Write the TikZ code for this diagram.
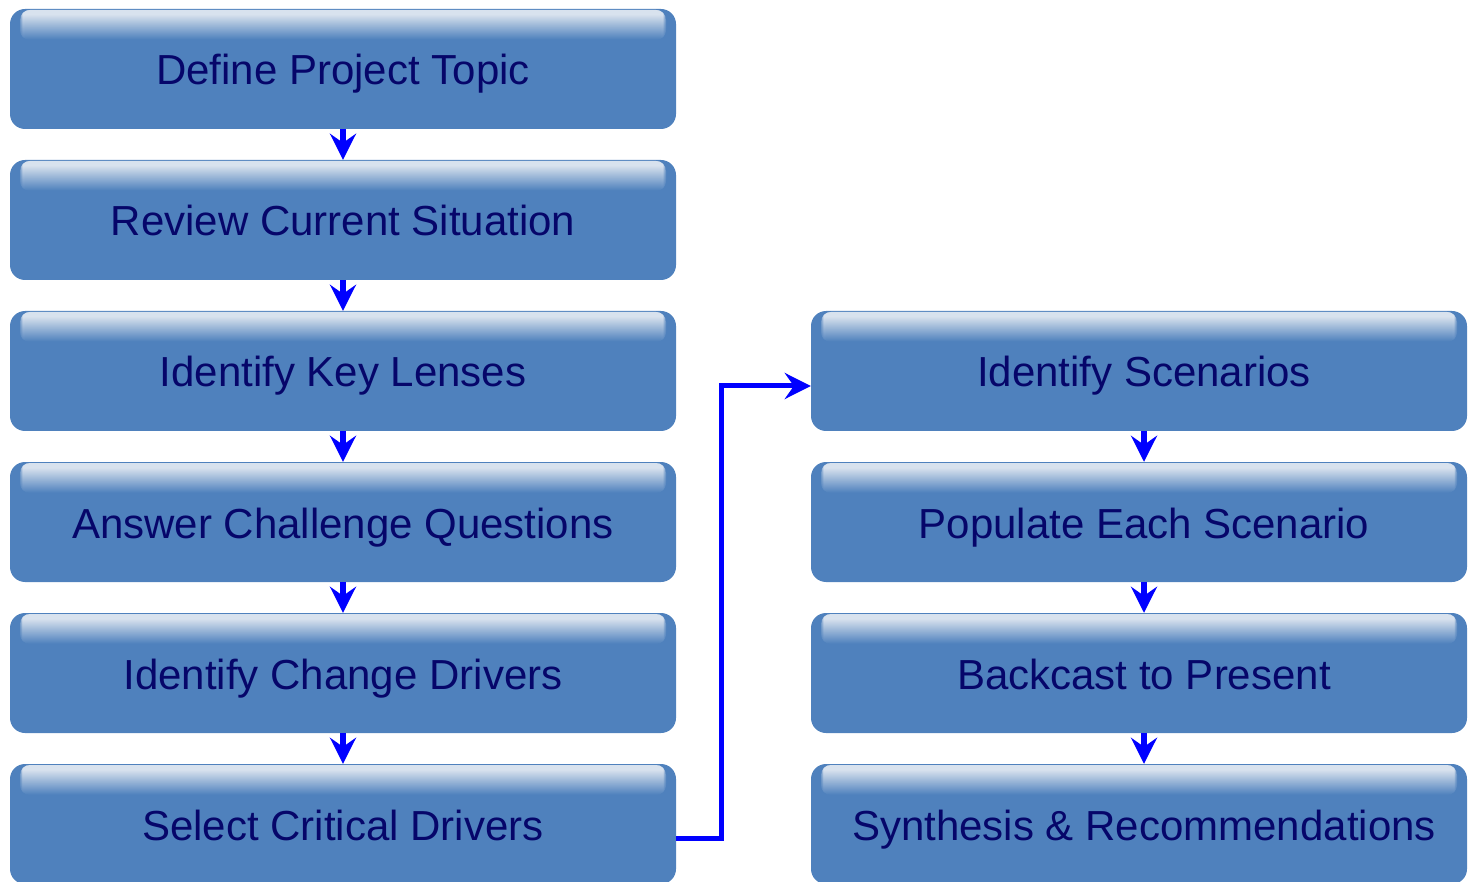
\documentclass[tikz,border=0pt]{standalone}
\usepackage{fontspec}
\setmainfont{Liberation Sans}
\usetikzlibrary{arrows.meta,calc}
\definecolor{boxblue}{HTML}{4F81BD}
\definecolor{glossblue}{HTML}{D8E2EE}
\definecolor{textnavy}{HTML}{06066A}
\definecolor{flowblue}{HTML}{0000FF}
\tikzset{
  stepbox/.style={
    fill=boxblue, rounded corners=15pt, inner sep=0pt,
    minimum height=120pt, text=textnavy,
    text height=36pt, text depth=4pt,
    font=\fontsize{42}{50}\selectfont,
    % highlight band along the top: pale at the top, fading into the fill,
    % built from thin strips inside a rounded clip
    path picture={
      \begin{scope}
        \clip[rounded corners=10pt]
          ([xshift=10pt,yshift=-1pt]path picture bounding box.north west)
          rectangle ([xshift=-10pt,yshift=-31pt]path picture bounding box.north east);
        \foreach \i in {0,...,30}{
          \pgfmathtruncatemacro\p{min(100,max(0,100*(30-\i)/25))}
          \fill[glossblue!\p!boxblue]
            ([yshift={-(\i+0.5)*1pt}]path picture bounding box.north west)
            rectangle ([yshift={-(\i+2)*1pt}]path picture bounding box.north east);
        }
      \end{scope}
    }},
  leftbox/.style={stepbox, minimum width=666pt},
  rightbox/.style={stepbox, minimum width=656pt},
  flow/.style={draw=flowblue, line width=5.5pt,
    -{Stealth[length=26pt,width=26pt,inset=9pt]}},
  rlabel/.style={text=textnavy, font=\fontsize{42}{50}\selectfont,
    inner sep=0pt, text height=36pt, text depth=4pt}
}
\begin{document}
\begin{tikzpicture}[x=1pt,y=-1pt]
\useasboundingbox (0,0) rectangle (1470,882);

% left column
\node[leftbox] (l1) at (343,69)  {Define Project Topic};
\node[leftbox] (l2) at (343,220) {Review Current Situation};
\node[leftbox] (l3) at (343,371) {Identify Key Lenses};
\node[leftbox] (l4) at (343,522) {Answer Challenge Questions};
\node[leftbox] (l5) at (343,673) {Identify Change Drivers};
\node[leftbox] (l6) at (343,824) {Select Critical Drivers};

% right column
\node[rightbox] (r1) at (1139,371) {};
\node[rightbox] (r2) at (1139,522) {};
\node[rightbox] (r3) at (1139,673) {};
\node[rightbox] (r4) at (1139,824) {};
\node[rlabel] (t1) at ($(r1.center)+(5,0)$) {Identify Scenarios};
\node[rlabel] (t2) at ($(r2.center)+(5,0)$) {Populate Each Scenario};
\node[rlabel] (t3) at ($(r3.center)+(5,0)$) {Backcast to Present};
\node[rlabel] (t4) at ($(r4.center)+(5,0)$) {Synthesis \& Recommendations};

% arrows down the left column
\foreach \a/\b in {l1/l2,l2/l3,l3/l4,l4/l5,l5/l6}
  \draw[flow] (\a.south) -- (\b.north);

% arrows down the right column
\foreach \a/\b in {r1/r2,r2/r3,r3/r4}
  \draw[flow] ($(\a.south)+(5,0)$) -- ($(\b.north)+(5,0)$);

% elbow from the left column to the right one
\coordinate (e1) at ($(l6.east)+(0,14)$);
\coordinate (e2) at ($(r1.west)+(0,15)$);
\draw[flow, line width=5pt]
  (e1) -| ($(e1)+(45,0)$) |- (e2);
\end{tikzpicture}
\end{document}
